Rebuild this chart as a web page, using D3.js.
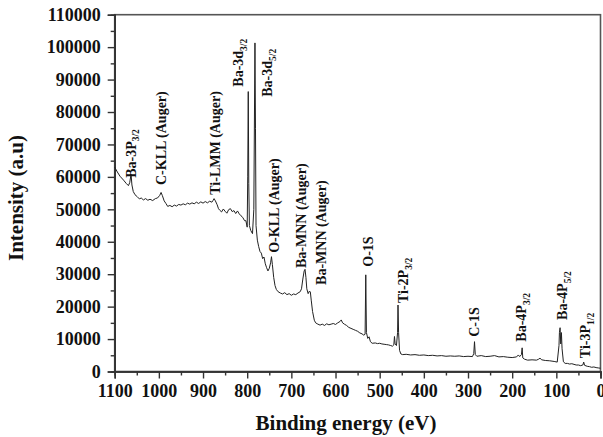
<!DOCTYPE html>
<html>
<head>
<meta charset="utf-8">
<script src="https://cdn.jsdelivr.net/npm/d3@7"></script>
<style>
  html, body { margin: 0; padding: 0; background: #fff; }
  svg text { font-family: "Liberation Serif", "Times New Roman", serif; font-weight: bold; fill: #111; }
</style>
</head>
<body>
<div id="chart"></div>
<script>
// XPS survey spectrum, binding energy (eV) vs intensity (a.u)
const energy = [
  1100, 1094, 1088, 1080, 1074, 1069, 1066, 1063, 1061, 1058, 1054, 1049, 1044, 1040, 1035, 1030, 1025, 1020, 1014, 1008,
  1003, 998, 995, 992, 988, 984, 980, 975, 970, 965, 960, 955, 950, 945, 940, 935, 930, 925, 920, 915,
  910, 905, 900, 895, 890, 885, 880, 877, 875, 872, 868, 865, 862, 858, 854, 850, 846, 842, 838, 834,
  830, 826, 822, 818, 814, 810, 806, 803, 800, 798.8, 797.6, 796.4, 795, 792, 788, 785, 783.5, 782.4, 781.2, 780,
  777, 774, 771, 768, 765, 762, 759, 756, 753, 750, 747, 745, 743, 740, 737, 734, 730, 725, 720, 715,
  710, 705, 700, 695, 690, 685, 680, 677, 674, 671, 669, 667, 665, 662, 659, 657, 655, 652, 648, 645,
  640, 635, 630, 625, 620, 615, 610, 605, 600, 595, 590, 587, 584, 580, 575, 570, 565, 560, 555, 550,
  545, 540, 536, 533, 531.5, 530, 527, 524, 521, 517, 510, 505, 500, 495, 490, 485, 480, 475, 471, 468,
  466.5, 465, 462, 459.5, 458.5, 457.2, 455, 452, 448, 440, 430, 420, 410, 400, 390, 380, 370, 360, 350, 340,
  330, 320, 310, 300, 290, 287, 285.3, 283.5, 280, 270, 260, 250, 240, 230, 220, 210, 200, 190, 186, 183,
  179, 177.4, 176, 172, 165, 155, 145, 140, 137, 133, 125, 115, 105, 98, 94, 93, 91.5, 90, 88.5, 87,
  84, 80, 75, 70, 65, 60, 55, 50, 45, 40, 38, 36, 30, 25, 20, 15, 10, 5, 0
];
const intensity = [
  63000, 61500, 60200, 59000, 58000, 57300, 58200, 60800, 57500, 55500, 54500, 53900, 53200, 53500, 52900, 53300, 52800, 53100, 52700, 53300,
  53500, 54300, 55200, 54200, 52600, 51800, 50900, 51200, 50800, 51300, 51000, 51500, 51300, 51700, 51400, 51900, 51600, 52000, 51700, 52200,
  51800, 52300, 51900, 52400, 52000, 52500, 52200, 52800, 53300, 52600, 51400, 50200, 49700, 49200, 50100, 49400, 48800, 49900, 50200, 49300,
  49600, 48700, 49500, 48600, 48000, 47500, 46500, 46500, 44500, 60000, 86300, 58000, 45000, 43500, 42500, 50000, 80000, 101300, 75000, 45000,
  40500, 38500, 37000, 36500, 34800, 35300, 33200, 32000, 31000, 31800, 33500, 35400, 33000, 29000, 26500, 25300, 24600, 24200, 23900, 24300,
  23700, 24000, 23500, 23900, 23700, 24200, 24600, 25500, 28500, 31000, 31500, 29000, 25500, 24000, 24800, 24500, 22000, 18500, 15800, 15000,
  14600, 14300, 14600, 14200, 14700, 14400, 14600, 14800, 14500, 15000, 15400, 15900, 15000, 14600, 14200, 13600, 13300, 13000, 12700, 12400,
  11900, 11600, 11200, 11500, 29800, 12000, 10200, 10700, 9200, 8700, 8800, 8600, 8700, 8500, 8400, 8300, 8200, 8000, 7800, 8200,
  10800, 8500, 8000, 12000, 20500, 12000, 6500, 5400, 5200, 5300, 5100, 5200, 5000, 5100, 4900, 5000, 4800, 4900, 4700, 4800,
  4700, 4800, 4600, 4700, 4600, 5500, 9200, 5200, 4700, 4900, 4600, 4700, 4900, 4500, 4600, 4400, 4300, 4500, 5100, 4600,
  5200, 7300, 4200, 3800, 3500, 3600, 3500, 3800, 4100, 3600, 3400, 3300, 3100, 2900, 8000, 12000, 13500, 8500, 12000, 7000,
  3000, 2500, 2500, 2300, 2400, 2200, 2000, 2000, 1800, 2000, 2900, 1900, 1600, 1500, 1300, 1400, 1200, 1100, 1000
];

// peak annotations: label, subscript, energy and intensity at the foot of the text
const peakNames = ["Ba-3P", "C-KLL (Auger)", "Ti-LMM (Auger)", "Ba-3d", "Ba-3d", "O-KLL (Auger)", "Ba-MNN (Auger)",
  "Ba-MNN (Auger)", "O-1S", "Ti-2P", "C-1S", "Ba-4P", "Ba-4P", "Ti-3P"];
const peakSubs = ["3/2", "", "", "3/2", "5/2", "", "", "", "", "3/2", "", "3/2", "5/2", "1/2"];
const peakEnergy = [1064, 994, 873, 820, 755, 739, 677, 632, 526, 448, 286, 180, 86, 35];
const peakLevel = [59700, 57500, 54500, 87800, 84700, 36600, 31900, 26700, 32300, 21100, 10700, 9200, 15900, 4100];

const xTickValues = [1100, 1000, 900, 800, 700, 600, 500, 400, 300, 200, 100, 0];
const xMinorValues = [1050, 950, 850, 750, 650, 550, 450, 350, 250, 150, 50];
const yTickValues = [0, 10000, 20000, 30000, 40000, 50000, 60000, 70000, 80000, 90000, 100000, 110000];
const yMinorValues = [5000, 15000, 25000, 35000, 45000, 55000, 65000, 75000, 85000, 95000, 105000];

const W = 603, H = 437;
const margin = { top: 14.7, right: 2.5, bottom: 65.5, left: 114.7 };

const svg = d3.select("#chart").append("svg")
  .attr("width", W)
  .attr("height", H);

const x = d3.scaleLinear().domain([1100, 0]).range([margin.left, W - margin.right]);
const y = d3.scaleLinear().domain([0, 110000]).range([H - margin.bottom, margin.top]);

// frame
svg.append("rect")
  .attr("x", x(1100)).attr("y", y(110000))
  .attr("width", x(0) - x(1100)).attr("height", y(0) - y(110000))
  .attr("fill", "none").attr("stroke", "#555").attr("stroke-width", 1.6);

// axes
const xAxis = svg.append("g").attr("transform", `translate(0,${y(0)})`)
  .call(d3.axisBottom(x).tickValues(xTickValues).tickFormat(d3.format("d")).tickSize(7).tickPadding(6));
svg.append("g").attr("transform", `translate(0,${y(0)})`)
  .call(d3.axisBottom(x).tickValues(xMinorValues).tickFormat("").tickSize(4));

const yAxis = svg.append("g").attr("transform", `translate(${x(1100)},0)`)
  .call(d3.axisLeft(y).tickValues(yTickValues).tickFormat(d3.format("d")).tickSize(7).tickPadding(7));
svg.append("g").attr("transform", `translate(${x(1100)},0)`)
  .call(d3.axisLeft(y).tickValues(yMinorValues).tickFormat("").tickSize(4));

svg.selectAll(".domain").attr("stroke", "#333").attr("stroke-width", 1.6);
svg.selectAll(".tick line").attr("stroke", "#333").attr("stroke-width", 1.4);
svg.selectAll(".tick text").style("font-size", "18px").style("font-family", "'Liberation Serif', serif")
  .style("font-weight", "bold").attr("fill", "#111");

// spectrum
const pts = energy.map((e, i) => ({ e, v: intensity[i] }));
const line = d3.line()
  .x(d => x(d.e))
  .y(d => y(d.v));

svg.append("path")
  .datum(pts)
  .attr("fill", "none")
  .attr("stroke", "#222")
  .attr("stroke-width", 1)
  .attr("stroke-linejoin", "round")
  .attr("d", line);

// peak labels
const labels = svg.append("g").selectAll("text")
  .data(peakNames.map((n, i) => ({ n, s: peakSubs[i], e: peakEnergy[i], v: peakLevel[i] })))
  .enter().append("text")
  .attr("transform", d => `translate(${x(d.e)},${y(d.v)}) rotate(-90)`)
  .attr("dy", "0.35em")
  .style("font-size", "14px");
labels.append("tspan").text(d => d.n);
labels.filter(d => d.s).append("tspan")
  .attr("dy", "4")
  .style("font-size", "9.5px")
  .text(d => d.s);

// axis titles
svg.append("text")
  .attr("x", 346).attr("y", 430)
  .attr("text-anchor", "middle")
  .style("font-size", "21px")
  .text("Binding energy (eV)");

svg.append("text")
  .attr("transform", "translate(23,198) rotate(-90)")
  .attr("text-anchor", "middle")
  .style("font-size", "21px")
  .text("Intensity (a.u)");
</script>
</body>
</html>
